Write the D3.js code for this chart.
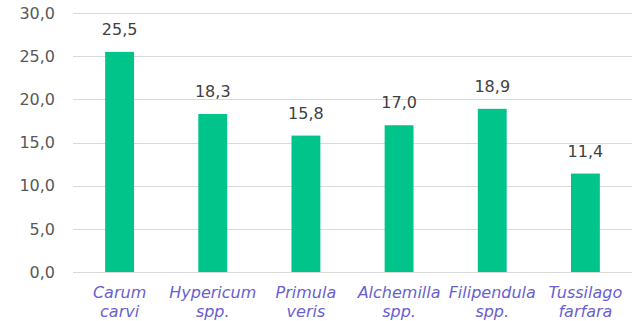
<!DOCTYPE html>
<html>
<head>
<meta charset="utf-8">
<script src="https://cdn.jsdelivr.net/npm/d3@7"></script>
<style>
  html, body { margin: 0; padding: 0; background: #fff; }
  svg { display: block; }
</style>
</head>
<body>
<svg id="chart" width="632" height="321"></svg>
<script>
// Species and their values
const speciesTop = ["Carum", "Hypericum", "Primula", "Alchemilla", "Filipendula", "Tussilago"];
const speciesBottom = ["carvi", "spp.", "veris", "spp.", "spp.", "farfara"];
const values = [25.5, 18.3, 15.8, 17.0, 18.9, 11.4];
const yTicks = [0, 5, 10, 15, 20, 25, 30];

const fmt = v => v.toFixed(1).replace(".", ",");

const svg = d3.select("#chart");
const margin = { left: 73, right: 0, top: 13, bottom: 49 };
const W = 632, H = 321;

const x = d3.scaleBand()
  .domain(d3.range(values.length))
  .range([margin.left, W - margin.right])
  .paddingInner(0.69)
  .paddingOuter(0.345);

const y = d3.scaleLinear()
  .domain([0, 30])
  .range([H - margin.bottom, margin.top]);

const font = "'DejaVu Sans', Verdana, sans-serif";

// Horizontal gridlines
svg.append("g")
  .selectAll("line")
  .data(yTicks)
  .join("line")
  .attr("x1", margin.left)
  .attr("x2", W - margin.right)
  .attr("y1", d => Math.round(y(d)) + 0.5)
  .attr("y2", d => Math.round(y(d)) + 0.5)
  .attr("stroke", "#d9d9d9")
  .attr("stroke-width", 1);

// Y axis labels
svg.append("g")
  .selectAll("text")
  .data(yTicks)
  .join("text")
  .attr("x", 55)
  .attr("y", d => y(d))
  .attr("dy", "0.36em")
  .attr("text-anchor", "end")
  .attr("font-family", font)
  .attr("font-size", 16)
  .attr("fill", "#595959")
  .text(fmt);

// Bars
svg.append("g")
  .selectAll("rect")
  .data(values)
  .join("rect")
  .attr("x", (d, i) => x(i))
  .attr("width", x.bandwidth())
  .attr("y", d => y(d))
  .attr("height", d => y(0) - y(d))
  .attr("fill", "#00c48a");

// Value labels
svg.append("g")
  .selectAll("text")
  .data(values)
  .join("text")
  .attr("x", (d, i) => x(i) + x.bandwidth() / 2)
  .attr("y", d => y(d) - 17)
  .attr("text-anchor", "middle")
  .attr("font-family", font)
  .attr("font-size", 16)
  .attr("fill", "#404040")
  .text(fmt);

// Category labels (two lines, italic)
const cat = svg.append("g")
  .selectAll("text")
  .data(values)
  .join("text")
  .attr("text-anchor", "middle")
  .attr("font-family", font)
  .attr("font-size", 16)
  .attr("font-style", "italic")
  .attr("fill", "#6a5fd0");
cat.append("tspan")
  .attr("x", (d, i) => x(i) + x.bandwidth() / 2)
  .attr("y", 298)
  .text((d, i) => speciesTop[i]);
cat.append("tspan")
  .attr("x", (d, i) => x(i) + x.bandwidth() / 2)
  .attr("y", 317)
  .text((d, i) => speciesBottom[i]);
</script>
</body>
</html>
